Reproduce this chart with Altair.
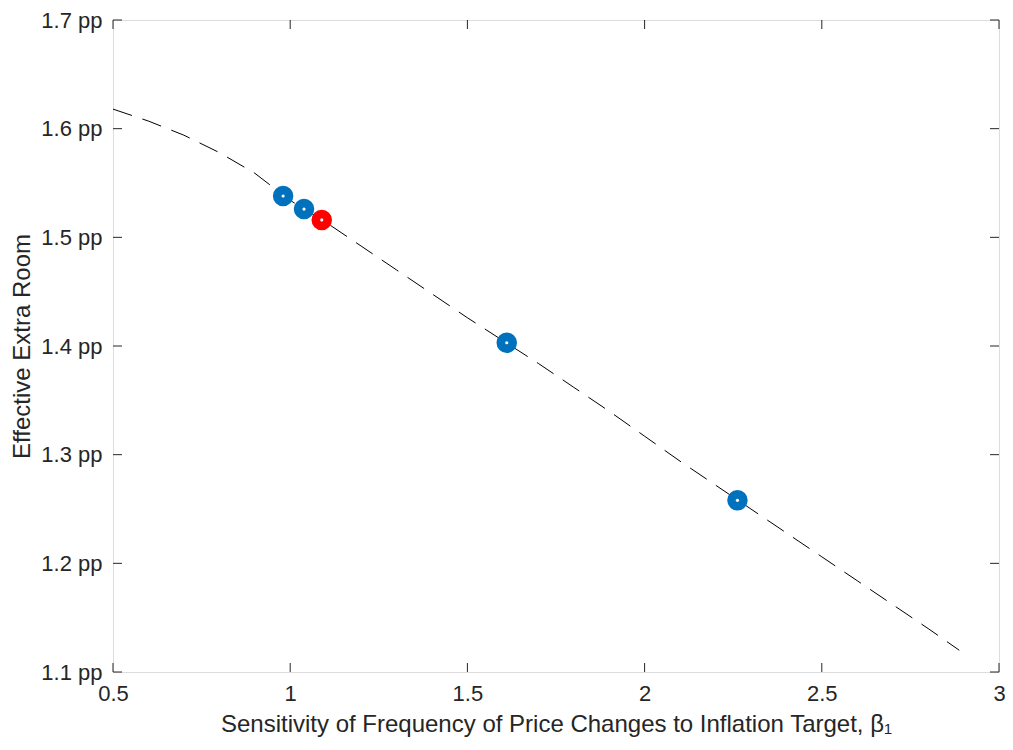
import altair as alt
import pandas as pd

curve_x = [0.5, 0.6, 0.7, 0.8, 0.9, 1.0, 1.1, 1.2, 1.3, 1.4, 1.5, 1.6, 1.7, 1.8, 1.9,
           2.0, 2.1, 2.2, 2.3, 2.4, 2.5, 2.6, 2.7, 2.8, 2.888]
curve_y = [1.618, 1.607, 1.594, 1.578, 1.559, 1.534, 1.514, 1.492, 1.470, 1.448, 1.426,
           1.405, 1.384, 1.362, 1.340, 1.317, 1.294, 1.272, 1.250, 1.228, 1.206, 1.184,
           1.162, 1.140, 1.120]

blue_x = [0.98, 1.039, 1.611, 2.262]
blue_y = [1.538, 1.526, 1.403, 1.258]
red_x = [1.089]
red_y = [1.516]

x_ticks = [0.5, 1, 1.5, 2, 2.5, 3]
y_ticks = [1.1, 1.2, 1.3, 1.4, 1.5, 1.6, 1.7]

curve = pd.DataFrame({"x": curve_x, "y": curve_y})
blue = pd.DataFrame({"x": blue_x, "y": blue_y})
red = pd.DataFrame({"x": red_x, "y": red_y})
pts = pd.concat([blue, red])
xt = pd.DataFrame({"x": x_ticks})
yt = pd.DataFrame({"y": y_ticks})

W, H = 886, 652
ink = "#262626"
font = "Liberation Sans"

xs = alt.Scale(domain=[0.5, 3], nice=False, zero=False)
ys = alt.Scale(domain=[1.1, 1.7], nice=False, zero=False)

xaxis = alt.Axis(values=x_ticks, ticks=False, domain=False, grid=False, labelFontSize=22,
                 labelColor=ink, labelPadding=11, labelFont=font,
                 title="Sensitivity of Frequency of Price Changes to Inflation Target,  β₁",
                 titleFontSize=24, titleFont=font, titleColor=ink, titleFontWeight="normal",
                 titlePadding=8, labelExpr="format(datum.value, '.2~f')", labelFlush=False)
yaxis = alt.Axis(values=y_ticks, ticks=False, domain=False, grid=False, labelFontSize=22,
                 labelColor=ink, labelPadding=11, labelFont=font,
                 labelExpr="format(datum.value, '.1f') + ' pp'",
                 title="Effective Extra Room", titleFontSize=24, titleFont=font,
                 titleColor=ink, titleFontWeight="normal", titlePadding=6)

line = alt.Chart(curve).mark_line(color="black", strokeWidth=1, strokeDash=[20, 11]).encode(
    x=alt.X("x:Q", scale=xs, axis=xaxis),
    y=alt.Y("y:Q", scale=ys, axis=yaxis),
)

blue_pts = alt.Chart(blue).mark_point(filled=True, shape="circle", size=420, opacity=1,
                                      color="#0072BD").encode(x=alt.X("x:Q", scale=xs), y=alt.Y("y:Q", scale=ys))
red_pts = alt.Chart(red).mark_point(filled=True, shape="circle", size=420, opacity=1,
                                    color="#FF0000").encode(x=alt.X("x:Q", scale=xs), y=alt.Y("y:Q", scale=ys))
centers = alt.Chart(pts).mark_point(filled=True, shape="circle", size=10, opacity=1,
                                    color="white").encode(x=alt.X("x:Q", scale=xs), y=alt.Y("y:Q", scale=ys))

tick_len = 9
left_ticks = alt.Chart(yt).mark_rule(color=ink, strokeWidth=1).encode(
    y=alt.Y("y:Q", scale=ys), x=alt.value(0), x2=alt.value(tick_len))
right_ticks = alt.Chart(yt).mark_rule(color=ink, strokeWidth=1).encode(
    y=alt.Y("y:Q", scale=ys), x=alt.value(W - tick_len), x2=alt.value(W))
bottom_ticks = alt.Chart(xt).mark_rule(color=ink, strokeWidth=1).encode(
    x=alt.X("x:Q", scale=xs), y=alt.value(H - tick_len), y2=alt.value(H))
top_ticks = alt.Chart(xt).mark_rule(color=ink, strokeWidth=1).encode(
    x=alt.X("x:Q", scale=xs), y=alt.value(0), y2=alt.value(tick_len))

chart = alt.layer(line, left_ticks, right_ticks, bottom_ticks, top_ticks,
                  blue_pts, red_pts, centers).properties(
    width=W, height=H,
    autosize=alt.AutoSizeParams(type="none"),
    padding={"left": 105, "top": 12, "right": 6, "bottom": 70},
).configure_view(stroke=ink, strokeWidth=1).configure(background="white")

chart.save("out.html", embed_options={"renderer": "svg", "actions": False})
